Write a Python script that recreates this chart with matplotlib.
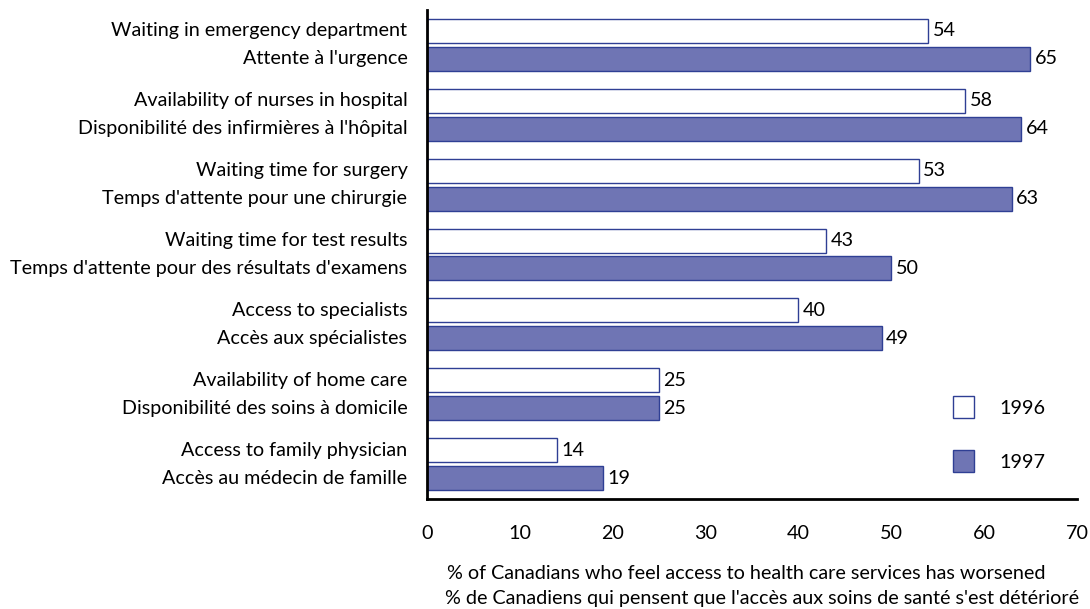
import matplotlib.pyplot as plt
import numpy as np
from matplotlib.patches import Patch

plt.rcParams['font.family'] = ['Lato', 'DejaVu Sans']

# Data
labels_en = ['Waiting in emergency department', 'Availability of nurses in hospital',
             'Waiting time for surgery', 'Waiting time for test results',
             'Access to specialists', 'Availability of home care',
             'Access to family physician']
labels_fr = ["Attente à l'urgence", "Disponibilité des infirmières à l'hôpital",
             "Temps d'attente pour une chirurgie", "Temps d'attente pour des résultats d'examens",
             "Accès aux spécialistes", "Disponibilité des soins à domicile",
             "Accès au médecin de famille"]
vals_1996 = [54, 58, 53, 43, 40, 25, 14]
vals_1997 = [65, 64, 63, 50, 49, 25, 19]

fill = '#6f75b4'
edge = '#2f3f94'
fs = 14.2

fig = plt.figure(figsize=(10.9, 6.09), dpi=100)
ax = fig.add_axes([0.3917, 0.1806, 0.5963, 0.803])

y = np.arange(len(labels_en))
off = 0.2
h = 0.343
ax.barh(y - off, vals_1996, height=h, color='white', edgecolor=edge, linewidth=1, label='1996')
ax.barh(y + off, vals_1997, height=h, color=fill, edgecolor=edge, linewidth=1, label='1997')

for i in range(len(y)):
    ax.text(vals_1996[i] + 0.45, y[i] - off, str(vals_1996[i]), va='center', ha='left', fontsize=fs)
    ax.text(vals_1997[i] + 0.45, y[i] + off, str(vals_1997[i]), va='center', ha='left', fontsize=fs)
    ax.text(-2.1, y[i] - off, labels_en[i], va='center', ha='right', fontsize=fs)
    ax.text(-2.1, y[i] + off, labels_fr[i], va='center', ha='right', fontsize=fs)

ax.set_xlim(0, 70)
ax.set_ylim(6.5, -0.5)
ax.set_xticks(range(0, 71, 10))
ax.set_yticks([])
ax.tick_params(axis='x', length=0, pad=19, labelsize=fs)
for s in ['top', 'right']:
    ax.spines[s].set_visible(False)
for s in ['left', 'bottom']:
    ax.spines[s].set_linewidth(2)
    ax.spines[s].set_color('black')

handles = [Patch(facecolor='white', edgecolor=edge, label='1996'),
           Patch(facecolor=fill, edgecolor=edge, label='1997')]
ax.legend(handles=handles, loc='upper left', bbox_to_anchor=(0.809, 0.21), frameon=False,
          fontsize=fs, handlelength=1.1, handleheight=1.3, labelspacing=1.65,
          handletextpad=1.25, borderpad=0, borderaxespad=0)

fig.text(0.685, 0.059, '% of Canadians who feel access to health care services has worsened',
         ha='center', va='center', fontsize=fs)
fig.text(0.699, 0.017, "% de Canadiens qui pensent que l'accès aux soins de santé s'est détérioré",
         ha='center', va='center', fontsize=fs)

fig.savefig('out.png', dpi=100)
